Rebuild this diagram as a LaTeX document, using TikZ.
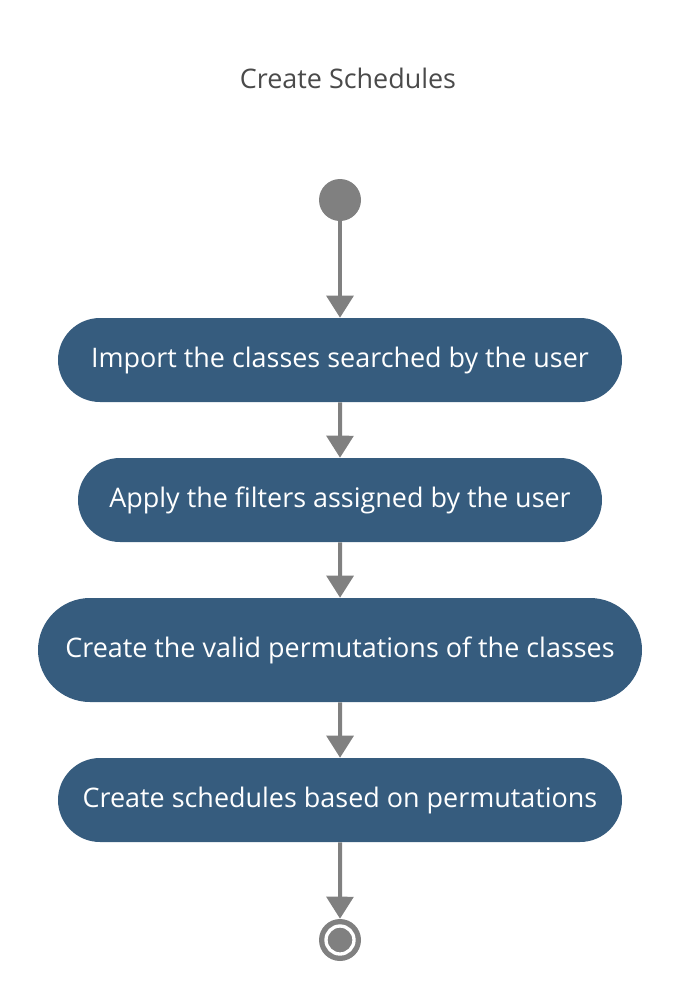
\documentclass[tikz,border=0pt]{standalone}
\usepackage{fontspec}
\setmainfont{Open Sans}
\usetikzlibrary{arrows.meta,shapes.misc}
\definecolor{stepblue}{HTML}{365C7E}
\definecolor{flowgray}{HTML}{808080}
\definecolor{titlegray}{HTML}{4A4A4A}
\tikzset{
  stepbox/.style={rounded rectangle, fill=stepblue, text=white, inner sep=0pt,
    font=\fontsize{20.2pt}{24pt}\selectfont},
  flow/.style={draw=flowgray, line width=3pt, -{Triangle[width=20pt,length=16.5pt]}}
}
\begin{document}
\begin{tikzpicture}[x=0.75pt, y=-0.75pt]
      \useasboundingbox (0,0) rectangle (680,1000);
      % Draw the title
      \node[text=titlegray, font=\fontsize{20.2pt}{24pt}\selectfont] (title) at (348,78) {Create Schedules};
      % Draw the start and the steps
      \node[circle, fill=flowgray, minimum size=31.5pt, inner sep=0pt] (start) at (340,200) {};
      \node[stepbox, minimum width=423pt, minimum height=63pt] (import) at (340,360) {Import the classes searched by the user};
      \node[stepbox, minimum width=393pt, minimum height=63pt] (filter) at (340,500) {Apply the filters assigned by the user};
      \node[stepbox, minimum width=453pt, minimum height=78pt] (permute) at (340,650) {Create the valid permutations of the classes};
      \node[stepbox, minimum width=423pt, minimum height=63pt] (schedule) at (340,800) {Create schedules based on permutations};
      % Draw the end
      \node[circle, fill=flowgray, minimum size=31.5pt, inner sep=0pt] (stop) at (340,940) {};
      \node[circle, draw=white, line width=2.5pt, minimum size=21pt, inner sep=0pt] (stopring) at (stop) {};
      % Draw the arrows
      \draw[flow] (start) -- (import);
      \draw[flow] (import) -- (filter);
      \draw[flow] (filter) -- (permute);
      \draw[flow] (permute) -- (schedule);
      \draw[flow] (schedule) -- (stop);
   \end{tikzpicture}
\end{document}
